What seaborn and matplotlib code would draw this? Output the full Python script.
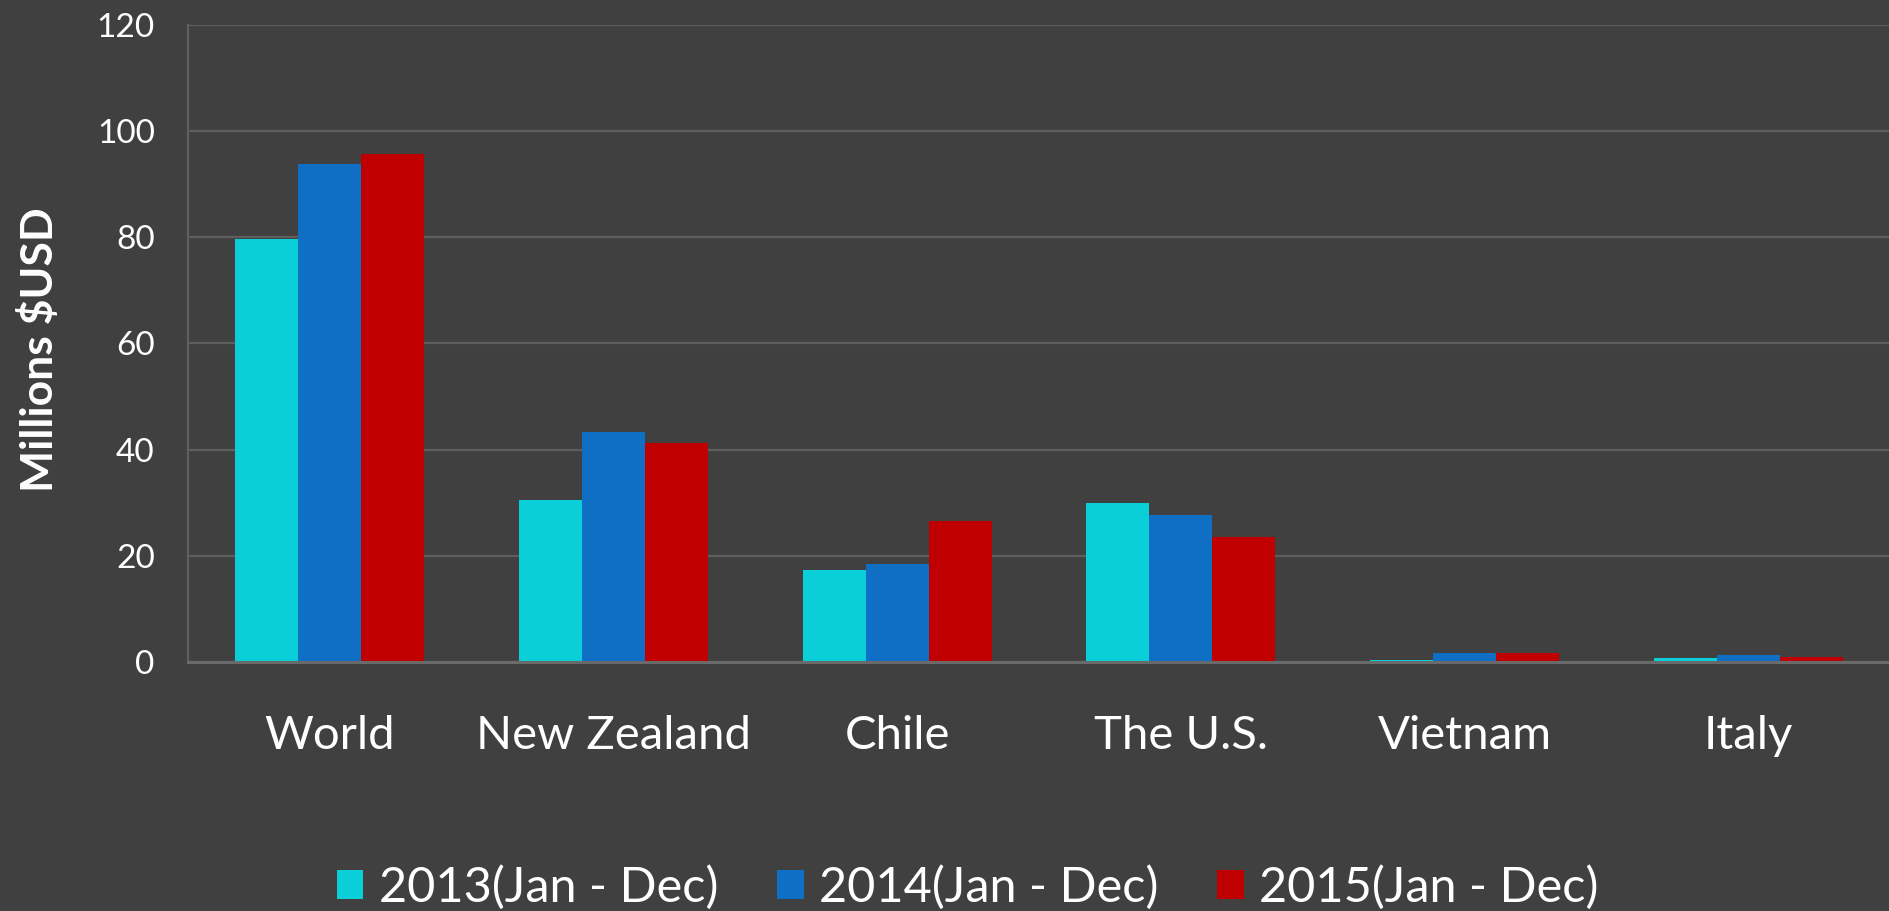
import pandas as pd
import matplotlib
matplotlib.use("Agg")
import matplotlib.pyplot as plt
import seaborn as sns

# values (millions USD)
countries = ["World", "New Zealand", "Chile", "The U.S.", "Vietnam", "Italy"]
periods = ["2013(Jan - Dec)", "2014(Jan - Dec)", "2015(Jan - Dec)"]
v2013 = [79.6, 30.6, 17.4, 29.9, 0.45, 0.75]
v2014 = [93.8, 43.4, 18.4, 27.7, 1.75, 1.4]
v2015 = [95.7, 41.3, 26.5, 23.6, 1.65, 0.95]
colors = ["#0BCFD8", "#0E6FC5", "#C00000"]

df = pd.DataFrame({
    "Country": countries * 3,
    "Period": [p for p in periods for _ in countries],
    "Value": v2013 + v2014 + v2015,
})

bg = "#404040"
grid = "#5E5E5E"

sns.set_theme(style="dark")
plt.rcParams["font.family"] = ["Lato", "DejaVu Sans"]

fig = plt.figure(figsize=(18.9, 9.11), dpi=100, facecolor=bg)
ax = fig.add_axes([0.0995, 0.2733, 0.9005, 0.6993])
ax.set_facecolor(bg)

sns.barplot(data=df, x="Country", y="Value", hue="Period", palette=colors,
            width=0.667, gap=0, saturation=1, edgecolor="none", ax=ax)

ax.set_ylim(0, 120)
ax.set_yticks(range(0, 121, 20))
ax.set_xlim(-0.5, len(countries) - 0.5)
ax.yaxis.grid(True, color=grid, linewidth=1.6)
ax.xaxis.grid(False)
ax.set_axisbelow(True)

for side in ["top", "right"]:
    ax.spines[side].set_visible(False)
ax.spines["left"].set_color(grid)
ax.spines["left"].set_linewidth(1.6)
ax.spines["bottom"].set_color("#6A6A6A")
ax.spines["bottom"].set_linewidth(2.2)

ax.tick_params(axis="x", length=0, pad=38, labelsize=34, labelcolor="white")
ax.tick_params(axis="y", length=0, pad=24, labelsize=24, labelcolor="white")

ax.set_xlabel("")
ax.set_ylabel("Millions $USD", color="white", fontsize=32, fontweight="bold")
ax.yaxis.set_label_coords(-0.075, 0.49)

leg = ax.legend(loc="lower center", bbox_to_anchor=(0.512, -0.025),
                bbox_transform=fig.transFigure, ncol=3, frameon=False,
                fontsize=35, handlelength=0.55, handleheight=0.55,
                handletextpad=0.32, columnspacing=1.2, borderaxespad=0.1)
for t in leg.get_texts():
    t.set_color("white")

fig.savefig("out.png", dpi=100, facecolor=bg)
